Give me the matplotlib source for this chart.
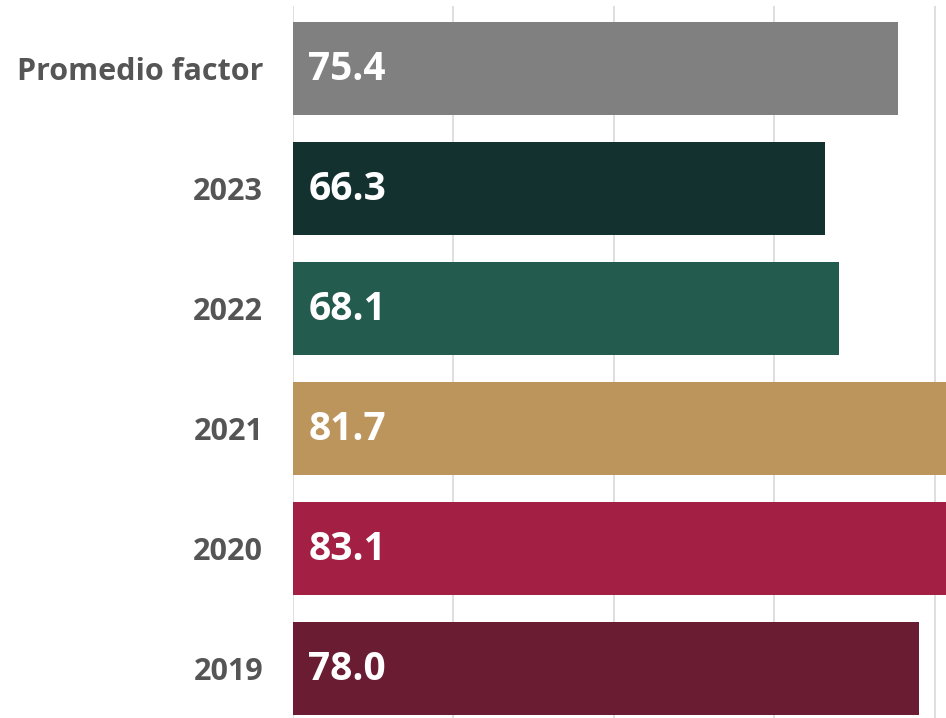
import matplotlib.pyplot as plt

# factor por año y promedio
categorias = ['Promedio factor', '2023', '2022', '2021', '2020', '2019']
valores = [75.4, 66.3, 68.1, 81.7, 83.1, 78.0]
colores = ['#808080', '#13322f', '#235b4e', '#bc955c', '#a31f44', '#691c32']

plt.rcParams['font.family'] = ['Open Sans', 'DejaVu Sans']

fig = plt.figure(figsize=(9.46, 7.18), dpi=100)
ax = fig.add_axes([293 / 946, 0, 1 - 293 / 946, 1 - 6 / 718])

pos = list(range(len(categorias)))
ax.barh(pos, valores, height=0.775, color=colores, zorder=2)

for i, v in enumerate(valores):
    ax.annotate(f'{v:.1f}', xy=(0, i), xytext=(11, -1), textcoords='offset points',
                ha='left', va='center', color='white', fontsize=28, fontweight='bold',
                zorder=3)

ax.set_xlim(0, 81.4)
ax.set_ylim(5.4125, -0.521)
ax.set_xticks([0, 20, 40, 60, 80])
ax.set_xticklabels([])
ax.tick_params(axis='x', length=0)
ax.set_yticks(pos)
ax.set_yticklabels(categorias, fontsize=22, fontweight='bold', color='#555555')
ax.tick_params(axis='y', length=0, pad=21.5)
ax.grid(axis='x', color='#dcdcdc', linewidth=1.3, zorder=0)
for s in ax.spines.values():
    s.set_visible(False)

fig.savefig('out.png', dpi=100)
